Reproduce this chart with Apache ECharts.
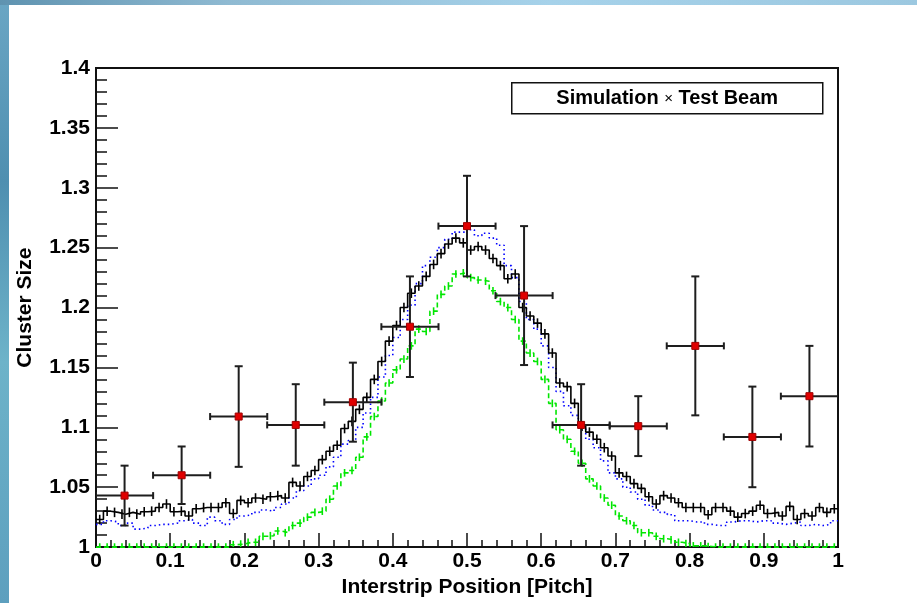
<!DOCTYPE html>
<html><head><meta charset="utf-8">
<script src="https://cdn.jsdelivr.net/npm/echarts@6/dist/echarts.min.js"></script>
<style>html,body{margin:0;padding:0;background:#fff}#c{width:917px;height:603px}</style>
</head><body><div id="c"></div>
<script>
// ---- Data ----
const histMin = 0, histMax = 1; // 100 bins over [0,1]
const simBlack = [1.023,1.030,1.029,1.0275,1.029,1.0275,1.0295,1.030,1.033,1.036,
  1.0295,1.030,1.026,1.032,1.033,1.033,1.033,1.037,1.028,1.039,
  1.037,1.041,1.040,1.042,1.043,1.041,1.054,1.051,1.059,1.064,
  1.073,1.080,1.085,1.099,1.105,1.115,1.125,1.140,1.155,1.172,
  1.185,1.200,1.212,1.218,1.226,1.236,1.245,1.253,1.258,1.254,
  1.248,1.251,1.248,1.241,1.235,1.224,1.228,1.200,1.193,1.187,
  1.178,1.162,1.137,1.134,1.120,1.101,1.096,1.090,1.083,1.076,
  1.062,1.059,1.053,1.049,1.042,1.036,1.043,1.041,1.037,1.033,
  1.033,1.033,1.027,1.033,1.033,1.030,1.025,1.028,1.030,1.035,
  1.028,1.029,1.026,1.034,1.023,1.028,1.026,1.033,1.029,1.032];
const simBlue = [1.019,1.022,1.021,1.018,1.020,1.015,1.016,1.018,1.019,1.019,
  1.020,1.022,1.023,1.020,1.018,1.025,1.022,1.019,1.023,1.026,
  1.027,1.029,1.031,1.030,1.033,1.036,1.041,1.047,1.051,1.057,
  1.060,1.067,1.075,1.086,1.089,1.100,1.112,1.125,1.142,1.160,
  1.175,1.190,1.202,1.220,1.235,1.242,1.250,1.257,1.263,1.263,
  1.265,1.260,1.262,1.258,1.252,1.235,1.225,1.205,1.190,1.182,
  1.168,1.150,1.130,1.118,1.110,1.100,1.090,1.083,1.072,1.062,
  1.057,1.050,1.046,1.040,1.035,1.031,1.029,1.027,1.022,1.022,
  1.021,1.021,1.019,1.018,1.018,1.021,1.022,1.022,1.021,1.022,
  1.022,1.020,1.019,1.020,1.021,1.018,1.019,1.018,1.019,1.022];
const simGreen = [1,1,1,1,1,1,1,1,1,1,
  1,1,1,1,1,1,1,1,1.002,1.0025,
  1.004,1.004,1.009,1.0095,1.0135,1.012,1.018,1.020,1.025,1.029,
  1.030,1.040,1.051,1.062,1.064,1.075,1.092,1.109,1.122,1.137,
  1.148,1.157,1.168,1.182,1.180,1.197,1.211,1.218,1.228,1.229,
  1.225,1.223,1.222,1.214,1.205,1.200,1.190,1.172,1.162,1.155,
  1.140,1.120,1.098,1.090,1.080,1.070,1.057,1.051,1.041,1.035,
  1.026,1.022,1.018,1.012,1.012,1.009,1.007,1.006,1.004,1.003,
  1.001,1.001,1.0005,1,1,1,1,1,1,1,
  1,1,1,1,1,1,1,1,1,1];
const simErr = 0.004;
const beamX = [0.0385,0.1154,0.1923,0.2692,0.3462,0.4231,0.5,0.5769,0.6538,0.7308,0.8077,0.8846,0.9615];
const beamXErr = [0.0385,0.0385,0.0385,0.0385,0.0385,0.0385,0.0385,0.0385,0.0385,0.0385,0.0385,0.0385,0.0385];
const beamY = [1.043,1.060,1.109,1.102,1.121,1.184,1.268,1.210,1.102,1.101,1.168,1.092,1.126];
const beamYErr = [0.025,0.024,0.042,0.034,0.033,0.042,0.042,0.058,0.034,0.025,0.058,0.042,0.042];
const xTicks = {min:0, max:1, step:0.1};
const yTicks = {min:1, max:1.4, step:0.05};
const legendText = ['Simulation', '×', 'Test Beam'];
const xTitle = 'Interstrip Position [Pitch]';
const yTitle = 'Cluster Size';

// ---- Build ----
const nb = simBlack.length;
const bw = (histMax - histMin) / nb;
function stepData(arr){
  const d = arr.map((v,i)=>[histMin + i*bw, v]);
  d.push([histMax, arr[arr.length-1]]);
  return d;
}
const binData = arr => arr.map((v,i)=>[histMin + i*bw, histMin + (i+1)*bw, v]);

const FONT = '"Liberation Sans", Arial, sans-serif';
const GREEN = '#00e600';
const chart = echarts.init(document.getElementById('c'), null, {renderer:'canvas'});

function crossRender(color, scale){
  return function(params, api){
    const x0 = api.value(0), x1 = api.value(1), y = api.value(2);
    const xc = (x0+x1)/2;
    const t = api.coord([xc, y+simErr*scale]), b = api.coord([xc, y-simErr*scale]);
    return {type:'line', shape:{x1:t[0],y1:t[1],x2:b[0],y2:b[1]}, style:{stroke:color, lineWidth:1.6}};
  };
}
function beamRender(params, api){
  const x = api.value(0), y = api.value(1), ex = api.value(2), ey = api.value(3);
  const c = api.coord([x,y]);
  const l = api.coord([x-ex,y]), r = api.coord([x+ex,y]);
  const t = api.coord([x,y+ey]), b = api.coord([x,y-ey]);
  const st = {stroke:'#1e1e1e', lineWidth:2};
  const cw = 4, ch = 3.5;
  return {type:'group', children:[
    {type:'line', shape:{x1:l[0],y1:c[1],x2:r[0],y2:c[1]}, style:st},
    {type:'line', shape:{x1:c[0],y1:t[1],x2:c[0],y2:b[1]}, style:st},
    {type:'line', shape:{x1:c[0]-cw,y1:t[1],x2:c[0]+cw,y2:t[1]}, style:st},
    {type:'line', shape:{x1:c[0]-cw,y1:b[1],x2:c[0]+cw,y2:b[1]}, style:st},
    {type:'line', shape:{x1:l[0],y1:c[1]-ch,x2:l[0],y2:c[1]+ch}, style:st},
    {type:'line', shape:{x1:r[0],y1:c[1]-ch,x2:r[0],y2:c[1]+ch}, style:st},
    {type:'rect', shape:{x:c[0]-3.5,y:c[1]-3.5,width:7,height:7}, style:{fill:'#e00000', stroke:'#a00000', lineWidth:1}}
  ]};
}
const fmt = v => String(parseFloat(v.toFixed(2)));

const option = {
  animation: false,
  backgroundColor: '#ffffff',
  grid: {left:96, right:79, top:68, bottom:55, show:true, borderColor:'#111', borderWidth:2, backgroundColor:'#fff'},
  xAxis: {
    type:'value', min:xTicks.min, max:xTicks.max, interval:xTicks.step,
    name:xTitle, nameLocation:'middle', nameGap:25,
    nameTextStyle:{fontFamily:FONT, fontWeight:'bold', fontSize:21, color:'#000'},
    axisLine:{lineStyle:{color:'#111', width:2}},
    axisTick:{inside:true, length:14, lineStyle:{color:'#111', width:1.5}},
    minorTick:{show:true, splitNumber:5, length:7, lineStyle:{color:'#111', width:1.5}},
    splitLine:{show:false},
    axisLabel:{formatter:fmt, fontFamily:FONT, fontWeight:'bold', fontSize:21, color:'#000', margin:4}
  },
  yAxis: {
    type:'value', min:yTicks.min, max:yTicks.max, interval:yTicks.step,
    name:yTitle, nameLocation:'middle', nameGap:60, nameRotate:90,
    nameTextStyle:{fontFamily:FONT, fontWeight:'bold', fontSize:21, color:'#000'},
    axisLine:{lineStyle:{color:'#111', width:2}},
    axisTick:{inside:true, length:22, lineStyle:{color:'#111', width:1.5}},
    minorTick:{show:true, splitNumber:5, length:11, lineStyle:{color:'#111', width:1.5}},
    splitLine:{show:false},
    axisLabel:{formatter:fmt, fontFamily:FONT, fontWeight:'bold', fontSize:21, color:'#000', margin:6}
  },
  graphic: [
    {type:'rect', left:0, top:0, z:-10, shape:{width:9, height:603},
     style:{fill:new echarts.graphic.LinearGradient(0,0,0,1,[{offset:0,color:'#6aa6c4'},{offset:0.3,color:'#4f8fb0'},{offset:0.6,color:'#6db3c9'},{offset:1,color:'#5d9fbe'}])}},
    {type:'rect', left:0, top:0, z:-10, shape:{width:917, height:5},
     style:{fill:new echarts.graphic.LinearGradient(0,0,1,0,[{offset:0,color:'#5f93b0'},{offset:0.25,color:'#8fbad2'},{offset:0.6,color:'#a6d2ea'},{offset:1,color:'#9cc8e0'}])}},
    {type:'group', left:511, top:82, children:[
      {type:'rect', shape:{x:0,y:0,width:311,height:31}, style:{fill:'#fff', stroke:'#111', lineWidth:1.5}},
      {type:'text', x:155.5, y:16, style:{
        text:'{a|'+legendText[0]+' }{b|'+legendText[1]+'}{a| '+legendText[2]+'}',
        align:'center', verticalAlign:'middle',
        rich:{a:{fontFamily:FONT, fontWeight:'bold', fontSize:20, fill:'#000'},
              b:{fontFamily:FONT, fontSize:15, fill:'#000'}}
      }}
    ]}
  ],
  series: [
    {type:'line', name:'simGreen', step:'end', data:stepData(simGreen), showSymbol:false, symbol:'none',
     lineStyle:{color:GREEN, width:1.6, type:[5,3]}, z:2},
    {type:'custom', name:'simGreenErr', renderItem:crossRender(GREEN, 0.8), data:binData(simGreen), clip:true, z:2},
    {type:'line', name:'simBlue', step:'end', data:stepData(simBlue), showSymbol:false, symbol:'none',
     lineStyle:{color:'#0000ff', width:1.6, type:[1.5,3]}, z:3},
    {type:'line', name:'simBlack', step:'end', data:stepData(simBlack), showSymbol:false, symbol:'none',
     lineStyle:{color:'#000', width:1.6}, z:4},
    {type:'custom', name:'simBlackErr', renderItem:crossRender('#000', 1), data:binData(simBlack), clip:true, z:4},
    {type:'custom', name:'testBeam', renderItem:beamRender,
     data:beamX.map((x,i)=>[x, beamY[i], beamXErr[i], beamYErr[i]]), clip:true, z:6}
  ]
};
chart.setOption(option);
</script>
</body></html>
